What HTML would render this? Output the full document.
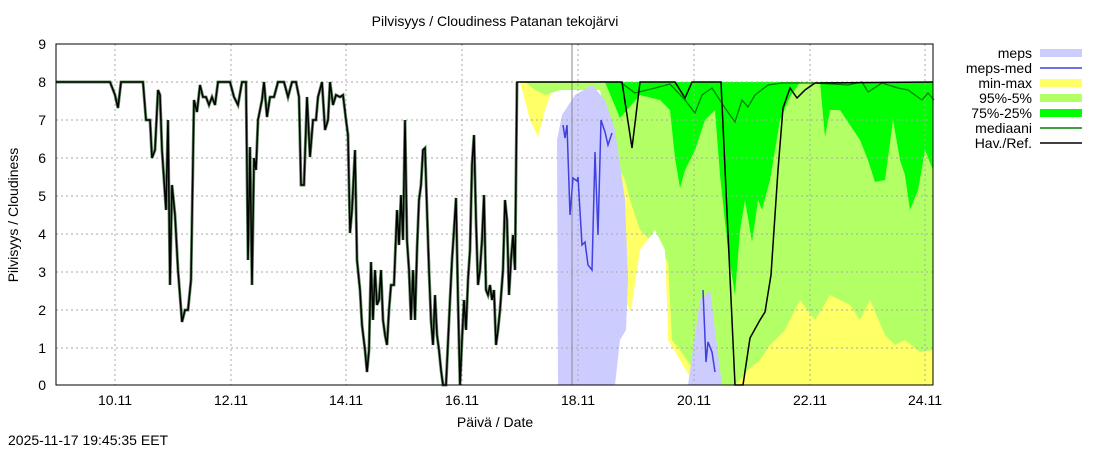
<!DOCTYPE html>
<html><head><meta charset="utf-8"><style>
body{margin:0;background:#fff;}
svg text{font-family:"Liberation Sans",sans-serif;font-size:14px;fill:#000;}
</style></head><body>
<svg width="1100" height="450" viewBox="0 0 1100 450" xmlns="http://www.w3.org/2000/svg">
<rect width="1100" height="450" fill="#fff"/>
<text x="495" y="26" text-anchor="middle">Pilvisyys / Cloudiness Patanan tekojärvi</text>
<!-- fills -->
<polygon fill="#ffff66" points="517,82 933,82 933,385 695,385 680,360 668,340 665,250 655,230 640,250 635,320 625,300 615,150 600,85 560,85 552,90 545,110 538,137 530,120 520,82"/>
<polygon fill="#b3ff66" points="520,82 933,82 933,350 920,352 905,340 895,345 885,335 870,300 860,320 850,305 830,295 815,320 800,300 785,330 770,345 760,360 748,370 735,385 722,385 712,380 700,370 690,365 680,350 672,340 668,262 660,250 650,240 640,230 630,200 625,180 615,160 600,90 560,90 545,95 535,90 525,82"/>
<polygon fill="#fff" points="628,330 640,250 655,230 665,250 668,330 660,385 640,385"/>
<polygon fill="#ccccff" points="558,385 557,140 562,115 575,95 592,85 605,100 615,130 625,200 628,280 626,330 620,340 615,385"/>
<polygon fill="#ccccff" points="688,385 700,300 710,290 722,385"/>
<polygon fill="#00ff00" points="605,82 933,82 933,170 925,150 918,190 910,210 905,175 900,160 893,120 885,180 875,182 868,160 860,140 850,125 840,110 830,110 825,137 820,82 800,82 790,97 780,120 770,180 762,210 758,200 752,242 745,200 740,230 735,295 728,250 720,175 715,110 705,120 695,150 690,160 685,170 680,188 675,158 670,110 660,100 640,95 620,118"/>
<!-- grid -->
<g stroke="#aaa" stroke-width="1" stroke-dasharray="2,3">
<line x1="56" x2="933" y1="82" y2="82"/><line x1="56" x2="933" y1="120" y2="120"/><line x1="56" x2="933" y1="158" y2="158"/><line x1="56" x2="933" y1="196" y2="196"/><line x1="56" x2="933" y1="234" y2="234"/><line x1="56" x2="933" y1="272" y2="272"/><line x1="56" x2="933" y1="310" y2="310"/><line x1="56" x2="933" y1="348" y2="348"/>
<line x1="115" x2="115" y1="44" y2="385"/><line x1="231" x2="231" y1="44" y2="385"/><line x1="346" x2="346" y1="44" y2="385"/><line x1="462" x2="462" y1="44" y2="385"/><line x1="578" x2="578" y1="44" y2="385"/><line x1="694" x2="694" y1="44" y2="385"/><line x1="810" x2="810" y1="44" y2="385"/><line x1="925" x2="925" y1="44" y2="385"/>
</g>
<line x1="572" x2="572" y1="44" y2="385" stroke="#888"/>
<!-- median forecast -->
<polyline fill="none" stroke="#008000" stroke-width="1.3" points="520,82 620,82 635,93 655,88 670,84 685,100 695,113 702,95 712,88 725,108 735,122 742,100 748,107 755,95 768,85 782,83 815,83 848,85 862,82 868,92 882,83 898,88 908,90 915,95 922,100 928,93 934,100"/>
<!-- meps-med -->
<polyline fill="none" stroke="#4040e0" stroke-width="1.5" points="563,125 565,138 567,125 570,215 573,178 577,181 578,177 582,245 585,242 588,265 592,270 595,152 598,235 601,120 605,132 608,145 612,133"/>
<polyline fill="none" stroke="#4040e0" stroke-width="1.5" points="703,290 706,362 708,342 712,352 715,372"/>
<!-- observed -->
<polyline fill="none" stroke="#004000" stroke-width="3" opacity="0.6" points="56,82 110,82 115,95 118,108 121,82 143,82 146,120 150,120 152,158 155,150 158,90 160,95 162,150 164,180 166,210 168,120 170,285 172,185 175,215 178,270 182,322 185,310 188,310 191,280 194,100 197,112 200,85 203,97 206,97 209,105 212,97 215,105 218,82 230,82 234,97 238,105 242,82 246,82 248,260 250,147 252,285 254,158 256,170 258,120 262,100 264,82 267,117 270,97 274,97 278,82 284,82 288,97 292,82 296,82 299,97 301,185 304,185 307,97 310,157 313,120 316,120 318,97 322,82 325,130 328,120 330,82 333,105 336,95 340,97 343,95 346,120 348,135 350,233 352,210 355,150 357,260 360,290 362,325 365,350 367,372 369,350 371,262 373,320 375,270 377,305 379,300 381,270 383,320 385,335 387,345 389,310 391,285 394,285 397,210 399,245 401,195 403,240 405,120 407,240 409,270 411,320 413,270 415,320 417,250 419,200 421,185 423,150 425,148 427,210 429,270 431,320 433,345 435,295 437,335 439,350 441,370 443,385 446,385 450,300 452,260 454,230 456,198 458,300 460,385 462,340 464,300 466,330 468,280 470,250 472,165 474,135 476,220 478,285 480,270 482,240 484,195 486,290 488,295 490,285 492,300 494,290 496,345 498,330 500,310 503,270 505,200 507,220 509,295 511,260 513,235 515,270 517,82"/>
<polyline fill="none" stroke="#000" stroke-width="1.5" points="56,82 110,82 115,95 118,108 121,82 143,82 146,120 150,120 152,158 155,150 158,90 160,95 162,150 164,180 166,210 168,120 170,285 172,185 175,215 178,270 182,322 185,310 188,310 191,280 194,100 197,112 200,85 203,97 206,97 209,105 212,97 215,105 218,82 230,82 234,97 238,105 242,82 246,82 248,260 250,147 252,285 254,158 256,170 258,120 262,100 264,82 267,117 270,97 274,97 278,82 284,82 288,97 292,82 296,82 299,97 301,185 304,185 307,97 310,157 313,120 316,120 318,97 322,82 325,130 328,120 330,82 333,105 336,95 340,97 343,95 346,120 348,135 350,233 352,210 355,150 357,260 360,290 362,325 365,350 367,372 369,350 371,262 373,320 375,270 377,305 379,300 381,270 383,320 385,335 387,345 389,310 391,285 394,285 397,210 399,245 401,195 403,240 405,120 407,240 409,270 411,320 413,270 415,320 417,250 419,200 421,185 423,150 425,148 427,210 429,270 431,320 433,345 435,295 437,335 439,350 441,370 443,385 446,385 450,300 452,260 454,230 456,198 458,300 460,385 462,340 464,300 466,330 468,280 470,250 472,165 474,135 476,220 478,285 480,270 482,240 484,195 486,290 488,295 490,285 492,300 494,290 496,345 498,330 500,310 503,270 505,200 507,220 509,295 511,260 513,235 515,270 517,82 622,82 632,148 640,82 675,82 685,98 692,82 721,82 735,385 743,385 750,338 760,320 765,312 771,275 778,170 783,108 790,88 797,98 805,90 815,83 933,82"/>
<!-- frame -->
<rect x="56" y="44" width="877" height="341" fill="none" stroke="#000"/>
<g text-anchor="end">
<text x="46" y="49">9</text><text x="46" y="87">8</text><text x="46" y="125">7</text><text x="46" y="163">6</text><text x="46" y="201">5</text><text x="46" y="239">4</text><text x="46" y="277">3</text><text x="46" y="315">2</text><text x="46" y="353">1</text><text x="46" y="390">0</text>
</g>
<g text-anchor="middle">
<text x="115" y="405">10.11</text><text x="231" y="405">12.11</text><text x="346" y="405">14.11</text><text x="462" y="405">16.11</text><text x="578" y="405">18.11</text><text x="694" y="405">20.11</text><text x="810" y="405">22.11</text><text x="925" y="405">24.11</text>
<text x="495" y="427">Päivä / Date</text>
</g>
<text transform="translate(18,215) rotate(-90)" text-anchor="middle">Pilvisyys / Cloudiness</text>
<text x="8" y="445">2025-11-17 19:45:35 EET</text>
<g text-anchor="end">
<text x="1032" y="58">meps</text><text x="1032" y="73">meps-med</text><text x="1032" y="88">min-max</text><text x="1032" y="103">95%-5%</text><text x="1032" y="118">75%-25%</text><text x="1032" y="133">mediaani</text><text x="1032" y="148">Hav./Ref.</text>
</g>
<rect x="1040" y="49" width="42" height="8" fill="#ccccff"/>
<line x1="1040" x2="1082" y1="68" y2="68" stroke="#4040e0" stroke-width="1.5"/>
<rect x="1040" y="79" width="42" height="8" fill="#ffff66"/>
<rect x="1040" y="94" width="42" height="8" fill="#b3ff66"/>
<rect x="1040" y="109" width="42" height="8" fill="#00ff00"/>
<line x1="1040" x2="1082" y1="128" y2="128" stroke="#008000" stroke-width="1.5"/>
<line x1="1040" x2="1082" y1="143" y2="143" stroke="#000" stroke-width="1.5"/>
</svg>
</body></html>
